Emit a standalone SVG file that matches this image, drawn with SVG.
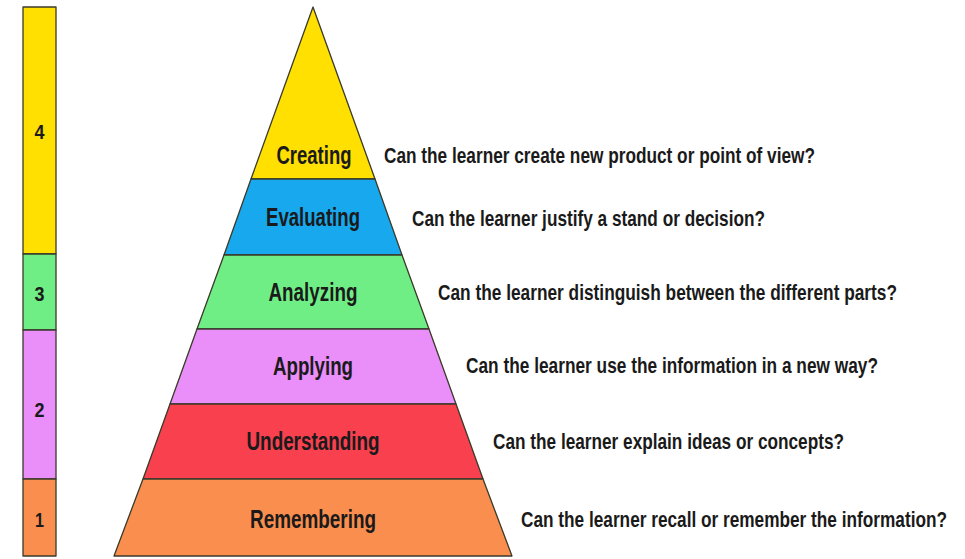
<svg xmlns="http://www.w3.org/2000/svg" width="965" height="559" viewBox="0 0 965 559">
<style>
.band{stroke:#3a3a2a;stroke-width:1.3;stroke-linejoin:round}
.lbl{font-family:"Liberation Sans",Arial,sans-serif;font-weight:bold;font-size:25px;fill:#1a1a1a;text-anchor:middle}
.q{font-family:"Liberation Sans",Arial,sans-serif;font-weight:bold;font-size:22px;fill:#1a1a1a}
.num{font-family:"Liberation Sans",Arial,sans-serif;font-weight:bold;font-size:21px;fill:#1a1a1a;text-anchor:middle}
</style>
<rect width="965" height="559" fill="#ffffff"/>
<g id="level-bar">
<rect class="band" x="23" y="7" width="33" height="247" fill="#FFE000"/>
<rect class="band" x="23" y="254" width="33" height="76" fill="#70EE86"/>
<rect class="band" x="23" y="330" width="33" height="149" fill="#EA8EFA"/>
<rect class="band" x="23" y="479" width="33" height="77" fill="#FA8E4E"/>
<text class="num" x="39.5" y="139" textLength="10" lengthAdjust="spacingAndGlyphs">4</text>
<text class="num" x="39.5" y="301" textLength="10" lengthAdjust="spacingAndGlyphs">3</text>
<text class="num" x="39.5" y="417" textLength="10" lengthAdjust="spacingAndGlyphs">2</text>
<text class="num" x="39.5" y="527" textLength="9" lengthAdjust="spacingAndGlyphs">1</text>
</g>
<g id="creating">
<polygon class="band" points="313,7 251,179 375,179" fill="#FFE000"/>
<text class="lbl" x="314" y="164" textLength="75" lengthAdjust="spacingAndGlyphs">Creating</text>
<text class="q" x="384" y="163" textLength="431" lengthAdjust="spacingAndGlyphs">Can the learner create new product or point of view?</text>
</g>
<g id="evaluating">
<polygon class="band" points="251,179 375,179 402,255 224,255" fill="#18A8EE"/>
<text class="lbl" x="313" y="226" textLength="94" lengthAdjust="spacingAndGlyphs">Evaluating</text>
<text class="q" x="412" y="226" textLength="353" lengthAdjust="spacingAndGlyphs">Can the learner justify a stand or decision?</text>
</g>
<g id="analyzing">
<polygon class="band" points="224,255 402,255 429,329 197,329" fill="#70EE86"/>
<text class="lbl" x="313" y="301" textLength="89" lengthAdjust="spacingAndGlyphs">Analyzing</text>
<text class="q" x="438" y="300" textLength="459" lengthAdjust="spacingAndGlyphs">Can the learner distinguish between the different parts?</text>
</g>
<g id="applying">
<polygon class="band" points="197,329 429,329 456,404 170,404" fill="#EA8EFA"/>
<text class="lbl" x="313" y="375" textLength="80" lengthAdjust="spacingAndGlyphs">Applying</text>
<text class="q" x="466" y="373" textLength="412" lengthAdjust="spacingAndGlyphs">Can the learner use the information in a new way?</text>
</g>
<g id="understanding">
<polygon class="band" points="170,404 456,404 483,479 143,479" fill="#F8404F"/>
<text class="lbl" x="313" y="450" textLength="133" lengthAdjust="spacingAndGlyphs">Understanding</text>
<text class="q" x="493" y="449" textLength="351" lengthAdjust="spacingAndGlyphs">Can the learner explain ideas or concepts?</text>
</g>
<g id="remembering">
<polygon class="band" points="143,479 483,479 512,556 114,556" fill="#FA8E4E"/>
<text class="lbl" x="313" y="528" textLength="126" lengthAdjust="spacingAndGlyphs">Remembering</text>
<text class="q" x="521" y="527" textLength="426" lengthAdjust="spacingAndGlyphs">Can the learner recall or remember the information?</text>
</g>
<g id="connectors"></g>
</svg>
